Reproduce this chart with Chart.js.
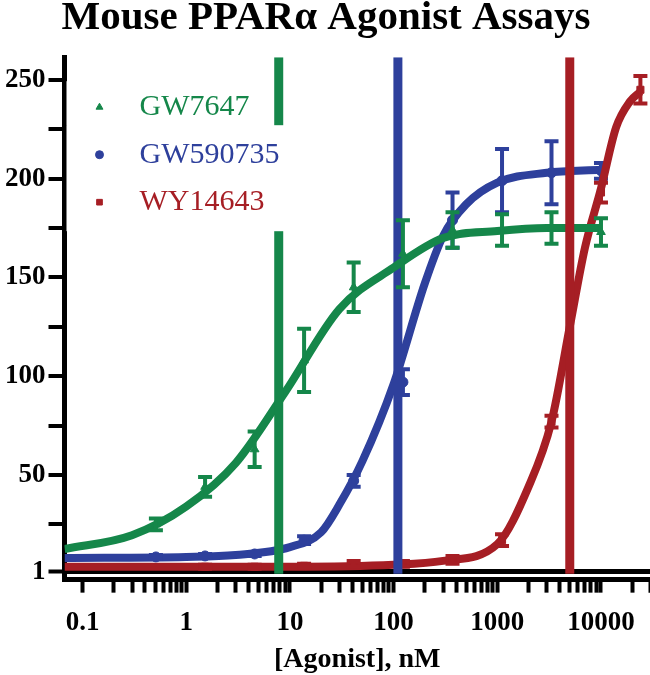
<!DOCTYPE html>
<html>
<head>
<meta charset="utf-8">
<script src="https://cdn.jsdelivr.net/npm/chart.js@4.4.0/dist/chart.umd.min.js"></script>
<style>
  html, body { margin: 0; padding: 0; background: #fff; overflow: hidden; }
</style>
</head>
<body>
<canvas id="chart1" width="650" height="675"></canvas>
<script>
"use strict";

// compounds, colours follow the original figure
var compounds = ['GW7647', 'GW590735', 'WY14643'];
var colors = ['#15874a', '#2e409c', '#a61e24'];
var markerStyles = ['triangle', 'circle', 'rect'];

// measured points (nM)
var concGW = [0.51, 1.52, 4.57, 13.7, 41.2, 123, 370, 1111, 3333, 10000];
var concWY = [1.52, 4.57, 13.7, 41.2, 123, 370, 1111, 3333, 10000, 24000];

var gw7647Mean = [25, 44, 63, 108, 145, 162, 174, 174, 175, 173];
var gw7647Err = [3, 5, 9, 16, 12.5, 17, 9, 8, 8, 7];
var gw590735Mean = [8.5, 9, 10, 17, 47, 97, 179, 199, 203, 204];
var gw590735Err = [1, 1, 1, 2, 3, 6.5, 14, 16, 16, 4];
var wy14643Mean = [3.5, 3.5, 4, 5, 5, 7, 17, 77, 193, 245];
var wy14643Err = [1, 1, 1, 1.5, 1.5, 2, 3, 3, 5, 7];

// fitted curves
var fitConcGreen = [0.067, 0.3, 1, 3, 9, 30, 100, 300, 1000, 3000, 10000];
var fitGreen = [12.5, 19.5, 34, 56, 92, 134, 155, 170, 173.5, 175, 175];
var fitConcBlue = [0.067, 1, 3, 10, 20, 30, 50, 100, 200, 300, 500, 1000, 3000, 10000];
var fitBlue = [8, 8.5, 9.5, 13.5, 21, 35, 57, 96, 147, 171, 187, 198, 203, 204.5];
var fitConcRed = [0.067, 10, 100, 300, 1000, 2000, 3333, 5000, 7000, 10000, 14000, 19000, 24000];
var fitRed = [3.5, 3.5, 4.5, 6.5, 15, 44, 77, 125, 165, 195, 226, 239, 244];

// EC50 of each compound (nM)
var ec50Values = [7.8, 110, 5000];

// axis ticks
var yTickLabels = [1, 50, 100, 150, 200, 250];
var yMinorTicks = [25, 75, 125, 175, 225];
var xTickLabels = [0.1, 1, 10, 100, 1000, 10000];

var Y_MIN = -3, Y_MAX = 261.5, X_MIN = 0.067, X_MAX = 29700;

function pairs(xs, ys) {
    return xs.map(function (x, i) { return { x: x, y: ys[i] }; });
}

function curve(i, xs, ys, order) {
    return {
        data: pairs(xs, ys),
        borderColor: colors[i],
        borderWidth: 8,
        pointRadius: 0,
        cubicInterpolationMode: 'monotone',
        fill: false,
        order: order
    };
}

function points(i, xs, ys, errs, order) {
    return {
        data: pairs(xs, ys),
        errors: errs,
        showLine: false,
        borderColor: colors[i],
        backgroundColor: colors[i],
        pointStyle: markerStyles[i],
        pointRadius: 5,
        order: order
    };
}

function ec50Line(i, order) {
    return {
        data: [{ x: ec50Values[i], y: 0 }, { x: ec50Values[i], y: Y_MAX }],
        borderColor: colors[i],
        borderWidth: 9,
        pointRadius: 0,
        order: order
    };
}

// error bars drawn right after their points
var errorBars = {
    id: 'errorBars',
    afterDatasetDraw: function (chart, args) {
        var ds = chart.data.datasets[args.index];
        if (!ds.errors) return;
        var ctx = chart.ctx, y = chart.scales.y;
        ctx.save();
        ctx.strokeStyle = ds.borderColor;
        ctx.lineWidth = 4;
        args.meta.data.forEach(function (pt, i) {
            var v = ds.data[i].y, e = ds.errors[i];
            var top = y.getPixelForValue(v + e), bot = y.getPixelForValue(v - e);
            ctx.beginPath();
            ctx.moveTo(pt.x, top); ctx.lineTo(pt.x, bot);
            ctx.moveTo(pt.x - 7, top); ctx.lineTo(pt.x + 7, top);
            ctx.moveTo(pt.x - 7, bot); ctx.lineTo(pt.x + 7, bot);
            ctx.stroke();
        });
        ctx.restore();
    }
};

// legend with white background sitting over the lines
var boxLegend = {
    id: 'boxLegend',
    afterDatasetsDraw: function (chart) {
        var ctx = chart.ctx, a = chart.chartArea;
        ctx.save();
        ctx.fillStyle = '#fff';
        ctx.fillRect(a.left + 2, a.top + 24, 204, 44);
        ctx.fillRect(a.left + 2, a.top + 68, 235, 106);
        ctx.font = '30px "Liberation Serif"';
        ctx.textBaseline = 'middle';
        compounds.forEach(function (name, i) {
            var cy = a.top + 50 + i * 47.5;
            ctx.fillStyle = colors[i];
            ctx.strokeStyle = colors[i];
            Chart.helpers.drawPoint(ctx, { pointStyle: markerStyles[i], radius: 4, borderWidth: 1 }, a.left + 35, cy);
            ctx.fillText(name, a.left + 75, cy);
        });
        ctx.restore();
    }
};

// minor ticks at 2..9 of every decade, last one at the axis end
var xTicks = [];
xTickLabels.forEach(function (base) {
    for (var m = 1; m <= 9; m++) {
        var v = m === 1 ? base : Number((m * base).toPrecision(2));
        if (v >= X_MIN && v < X_MAX) xTicks.push(v);
    }
});
xTicks.push(X_MAX);

var ctx = document.getElementById('chart1').getContext('2d');
var myChart = new Chart(ctx, {
    type: 'line',
    data: {
        datasets: [
            curve(1, fitConcBlue, fitBlue, 9),
            points(1, concGW, gw590735Mean, gw590735Err, 8),
            curve(2, fitConcRed, fitRed, 7),
            points(2, concWY, wy14643Mean, wy14643Err, 6),
            ec50Line(1, 5),
            curve(0, fitConcGreen, fitGreen, 4),
            points(0, concGW, gw7647Mean, gw7647Err, 3),
            ec50Line(0, 2),
            ec50Line(2, 1)
        ]
    },
    options: {
        responsive: false,
        animation: false,
        // axis runs to the right edge of the picture, as in the original
        layout: { autoPadding: false, padding: { left: 2, right: 0, top: 0, bottom: 0 } },
        plugins: {
            legend: { display: false },
            tooltip: { enabled: false },
            title: {
                display: true,
                text: 'Mouse PPARα Agonist Assays',
                color: '#000',
                font: { family: 'Liberation Serif', weight: 'bold', size: 41 },
                padding: { top: -6, bottom: 14 }
            }
        },
        scales: {
            x: {
                type: 'logarithmic',
                min: X_MIN,
                max: X_MAX,
                afterBuildTicks: function (scale) {
                    scale.ticks = xTicks.map(function (v) { return { value: v }; });
                },
                ticks: {
                    autoSkip: false,
                    maxRotation: 0,
                    color: '#000',
                    // tall line box pushes the labels down without side padding
                    font: { family: 'Liberation Serif', weight: 'bold', size: 27, lineHeight: 2.25 },
                    padding: 0,
                    callback: function (value) {
                        return xTickLabels.indexOf(value) >= 0 ? String(value) : '';
                    }
                },
                grid: {
                    drawOnChartArea: false,
                    tickLength: 13,
                    tickColor: '#000',
                    tickWidth: 4
                },
                border: { color: '#000', width: 5 },
                title: {
                    display: true,
                    text: '[Agonist], nM',
                    color: '#000',
                    font: { family: 'Liberation Serif', weight: 'bold', size: 28 },
                    padding: { top: -10, bottom: -2 }
                }
            },
            y: {
                min: Y_MIN,
                max: Y_MAX,
                afterBuildTicks: function (scale) {
                    scale.ticks = yTickLabels.concat(yMinorTicks).sort(function (a, b) { return a - b; })
                        .map(function (v) { return { value: v }; });
                },
                ticks: {
                    autoSkip: false,
                    color: '#000',
                    font: { family: 'Liberation Serif', weight: 'bold', size: 27 },
                    padding: 3,
                    callback: function (value) {
                        return yTickLabels.indexOf(value) >= 0 ? String(value) : '';
                    }
                },
                grid: {
                    tickLength: 16,
                    tickColor: '#000',
                    tickWidth: 4,
                    color: function (c) { return c.tick && c.tick.value === 1 ? '#000' : 'rgba(0,0,0,0)'; },
                    lineWidth: function (c) { return c.tick && c.tick.value === 1 ? 5 : 0; }
                },
                border: { color: '#000', width: 5 }
            }
        }
    },
    plugins: [errorBars, boxLegend]
});
</script>
</body>
</html>
